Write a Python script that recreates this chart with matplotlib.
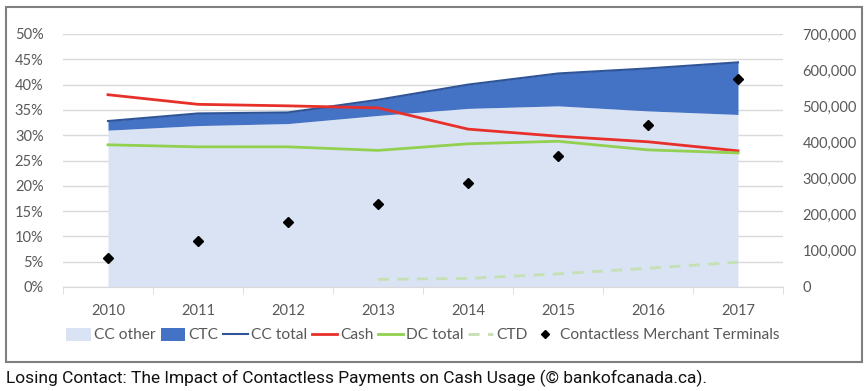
import matplotlib
matplotlib.use("Agg")
import matplotlib.pyplot as plt
from matplotlib.patches import Patch, Rectangle
from matplotlib.lines import Line2D
from matplotlib.ticker import FuncFormatter, MultipleLocator
import numpy as np

plt.rcParams['font.family'] = ['Lato', 'DejaVu Sans']

years = ["2010", "2011", "2012", "2013", "2014", "2015", "2016", "2017"]
cc_other = [31.0, 31.9, 32.3, 33.9, 35.3, 35.8, 34.8, 34.1]
cc_total = [32.8, 34.3, 34.5, 37.0, 40.0, 42.2, 43.2, 44.4]
cash = [38.0, 36.1, 35.8, 35.4, 31.2, 29.8, 28.7, 26.9]
dc_total = [28.1, 27.7, 27.7, 27.0, 28.3, 28.8, 27.1, 26.5]
ctd_years = ["2013", "2014", "2015", "2016", "2017"]
ctd = [1.5, 1.7, 2.6, 3.7, 4.9]
terminals = [79000, 128000, 180000, 229000, 289000, 362000, 447000, 576000]

light = "#DAE3F3"
ctc_col = "#4472C4"
dark = "#2F5597"
red = "#E8302A"
green = "#92D050"
ctd_col = "#C5E0B4"
grey = "#595959"

x = np.arange(len(years))
xc = np.array([years.index(y) for y in ctd_years])

fig = plt.figure(figsize=(8.68, 3.91), dpi=100)
ax = fig.add_axes([63/868, 104/391, 720/868, 253/391])

ax.fill_between(x, 0, cc_other, color=light, lw=0, zorder=2)
ax.fill_between(x, cc_other, cc_total, color=ctc_col, lw=0, zorder=2)
ax.plot(x, cc_total, color=dark, lw=1.5, zorder=3)
ax.plot(x, cash, color=red, lw=2, zorder=4)
ax.plot(x, dc_total, color=green, lw=2, zorder=4)
ax.plot(xc, ctd, color=ctd_col, lw=2, ls=(0, (4, 3)), zorder=4)

ax.set_xlim(-0.5, 7.5)
ax.set_ylim(0, 50)
ax.yaxis.set_major_locator(MultipleLocator(5))
ax.yaxis.set_major_formatter(FuncFormatter(lambda v, p: "%d%%" % v))
ax.grid(axis="y", color="#D9D9D9", lw=1, zorder=0)
ax.set_axisbelow(True)
ax.set_xticks(x)
ax.set_xticklabels(years)
ax.set_xticks(np.arange(-0.5, 8, 1), minor=True)
ax.tick_params(axis="x", which="major", length=0, pad=12, labelsize=10.5, labelcolor=grey)
ax.tick_params(axis="x", which="minor", length=5, color="#D9D9D9", direction="out")
ax.tick_params(axis="y", length=0, pad=14, labelsize=10.5, labelcolor=grey)
for s in ["top", "right", "left"]:
    ax.spines[s].set_visible(False)
ax.spines["bottom"].set_color("#D9D9D9")

ax2 = ax.twinx()
ax2.plot(x, terminals, "D", color="black", ms=5, zorder=5, ls="none")
ax2.set_ylim(0, 700000)
ax2.yaxis.set_major_locator(MultipleLocator(100000))
ax2.yaxis.set_major_formatter(FuncFormatter(lambda v, p: "{:,.0f}".format(v)))
ax2.tick_params(axis="y", length=0, pad=14, labelsize=10.5, labelcolor=grey)
for s in ax2.spines.values():
    s.set_visible(False)

handles = [
    Patch(facecolor=light, label="CC other"),
    Patch(facecolor=ctc_col, label="CTC"),
    Line2D([], [], color=dark, lw=1.5, label="CC total"),
    Line2D([], [], color=red, lw=2, label="Cash"),
    Line2D([], [], color=green, lw=2, label="DC total"),
    Line2D([], [], color=ctd_col, lw=2, ls=(0, (4, 3)), label="CTD"),
    Line2D([], [], marker="D", color="black", ms=4, ls="none", label="Contactless Merchant Terminals"),
]
fig.legend(handles=handles, loc="center", bbox_to_anchor=(423/868, 1 - 335/391), ncol=7,
           frameon=False, fontsize=11.2, labelcolor=grey, handlelength=1.6, handleheight=0.9,
           handletextpad=0.2, columnspacing=0.3, borderaxespad=0, borderpad=0)

fig.patches.append(Rectangle((6/868, 1 - 362/391), 856/868, 355/391, transform=fig.transFigure,
                             fill=False, edgecolor="#7F7F7F", lw=1.5))
fig.text(6/868, 1 - 378/391, "Losing Contact: The Impact of Contactless Payments on Cash Usage (\u00a9 bankofcanada.ca).",
         fontsize=12.5, color="#111111", va="center", ha="left", family=["Roboto", "DejaVu Sans"])

fig.savefig("out.png", dpi=100)
